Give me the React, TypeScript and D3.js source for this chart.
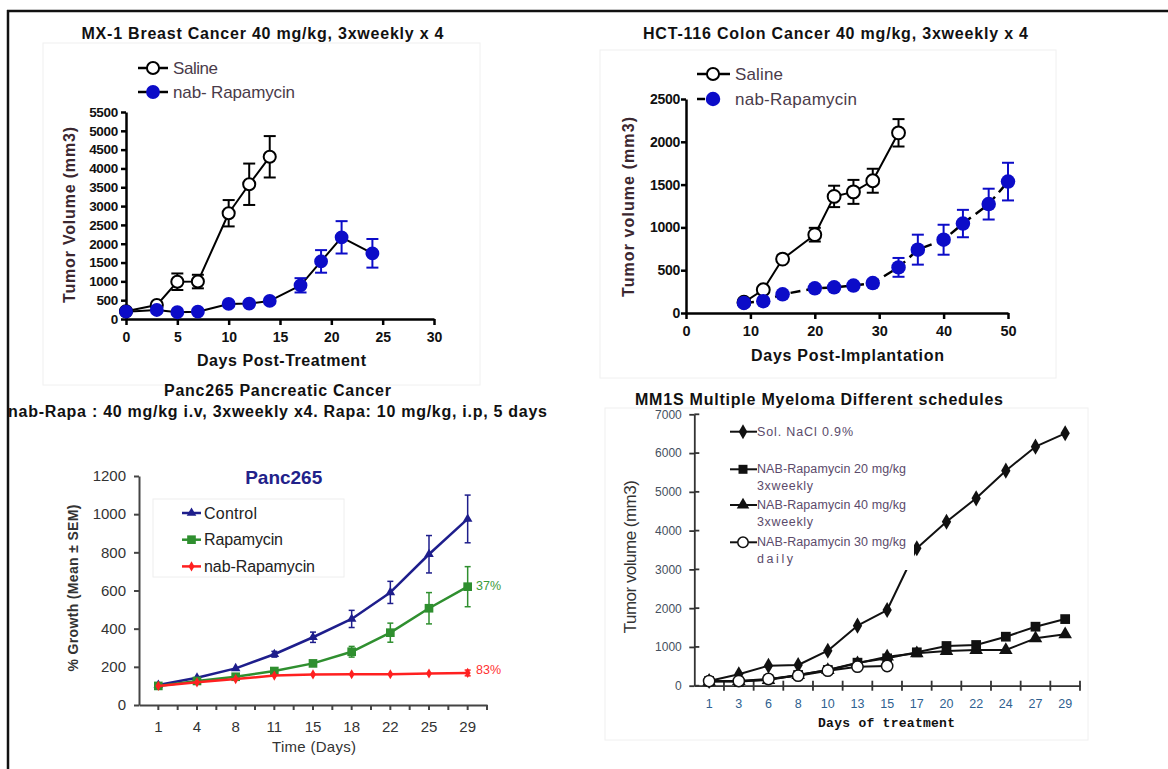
import React, { useRef, useEffect } from "react";
import * as d3 from "d3";

const W = 1168;
const H = 769;
const SANS = "'Liberation Sans', Arial, Helvetica, sans-serif";
const MONO = "'Liberation Mono', 'DejaVu Sans Mono', monospace";

// MX-1 breast cancer (days post-treatment, mm3)
const mxSalineDays = [0, 3, 5, 7, 10, 12, 14];
const mxSalineVol = [205, 370, 990, 995, 2810, 3580, 4310];
const mxSalineErr = [0, 0, 220, 180, 350, 550, 550];
const mxNabDays = [0, 3, 5, 7, 10, 12, 14, 17, 19, 21, 24];
const mxNabVol = [195, 240, 180, 195, 400, 410, 480, 895, 1530, 2170, 1745];
const mxNabErr = [0, 0, 0, 0, 0, 0, 0, 190, 300, 430, 380];

// HCT-116 colon cancer (days post-implantation, mm3)
const hctSalineDays = [9, 12, 15, 20, 23, 26, 29, 33];
const hctSalineVol = [125, 272, 630, 915, 1362, 1415, 1545, 2105];
const hctSalineErr = [0, 0, 0, 80, 125, 140, 140, 160];
const hctNabDays = [9, 12, 15, 20, 23, 26, 29, 33, 36, 40, 43, 47, 50];
const hctNabVol = [118, 138, 218, 288, 300, 320, 350, 533, 740, 856, 1045, 1272, 1535];
const hctNabErr = [0, 0, 0, 0, 0, 0, 0, 110, 175, 175, 160, 180, 220];

// Panc265 (% growth)
const pancDays = ["1", "4", "8", "11", "15", "18", "22", "25", "29"];
const pancControl = [105, 143, 192, 266, 355, 451, 590, 790, 975];
const pancControlErr = [0, 0, 0, 15, 27, 45, 58, 98, 125];
const pancRapa = [100, 126, 148, 178, 218, 279, 379, 507, 620];
const pancRapaErr = [0, 0, 0, 0, 12, 28, 50, 82, 105];
const pancNab = [100, 119, 136, 154, 160, 161, 161, 165, 168];
const pancNabErr = [0, 0, 0, 0, 0, 0, 0, 0, 15];

// MM1S multiple myeloma (days of treatment, mm3)
const mmDays = ["1", "3", "6", "8", "10", "13", "15", "17", "20", "22", "24", "27", "29"];
const mmSaline = [120, 294, 516, 534, 903, 1548, 1952, 3544, 4230, 4833, 5546, 6165, 6510];
const mm20 = [120, 103, 165, 276, 405, 594, 706, 861, 1024, 1050, 1264, 1522, 1718];
const mm40 = [103, 121, 147, 276, 405, 577, 748, 835, 895, 920, 920, 1222, 1325];
const mm30 = [120, 120, 173, 258, 387, 490, 508];

type Sel = d3.Selection<any, any, any, any>;
const fmt = d3.format("d");

function txt(g: Sel, s: string, x: number, y: number, o: any) {
  const t = g
    .append("text")
    .attr("transform", `translate(${x},${y})${o.rot ? " rotate(-90)" : ""}`)
    .attr("text-anchor", o.anchor || "middle")
    .attr("dominant-baseline", "central")
    .attr("font-family", o.family || SANS)
    .attr("font-size", o.size)
    .attr("font-weight", o.weight || "normal")
    .attr("fill", o.fill || "#111")
    .text(s);
  if (o.len) t.attr("textLength", o.len).attr("lengthAdjust", "spacing");
  return t;
}

function styleAxis(a: Sel, o: any) {
  a.select(".domain").attr("stroke", o.stroke).attr("stroke-width", o.width);
  a.selectAll(".tick line").attr("stroke", o.stroke).attr("stroke-width", o.width);
  a.selectAll(".tick text")
    .attr("font-family", o.family || SANS)
    .attr("font-size", o.size)
    .attr("font-weight", o.weight || "normal")
    .attr("letter-spacing", o.spacing || 0)
    .attr("fill", o.fill || "#111");
}

function line(g: Sel, pts: [number, number][], stroke: string, width: number, dash?: string) {
  g.append("path")
    .attr("d", d3.line()(pts))
    .attr("fill", "none")
    .attr("stroke", stroke)
    .attr("stroke-width", width)
    .attr("stroke-linejoin", "round")
    .attr("stroke-dasharray", dash || null);
}

function errBars(g: Sel, xs: number[], top: number[], bot: number[], color: string, cap: number, width: number) {
  xs.forEach((x, i) => {
    if (top[i] === bot[i]) return;
    g.append("line").attr("x1", x).attr("x2", x).attr("y1", top[i]).attr("y2", bot[i])
      .attr("stroke", color).attr("stroke-width", width);
    [top[i], bot[i]].forEach((yy) => {
      g.append("line").attr("x1", x - cap / 2).attr("x2", x + cap / 2).attr("y1", yy).attr("y2", yy)
        .attr("stroke", color).attr("stroke-width", width);
    });
  });
}

function marks(g: Sel, pts: [number, number][], type: any, size: number, fill: string, stroke: string, sw: number) {
  const sym = d3.symbol().type(type).size(size)();
  g.selectAll(null)
    .data(pts)
    .enter()
    .append("path")
    .attr("d", sym)
    .attr("transform", (d) => `translate(${d[0]},${d[1]})`)
    .attr("fill", fill)
    .attr("stroke", stroke)
    .attr("stroke-width", sw);
}

const App = () => {
  const ref = useRef<SVGSVGElement>(null);

  useEffect(() => {
    const svg = d3.select(ref.current);
    svg.selectAll("*").remove();

    // faint panel boxes
    [[43, 43, 437, 342], [600, 50, 456, 328], [605, 408, 483, 332]].forEach(([x, y, w, h]) => {
      svg.append("rect").attr("x", x).attr("y", y).attr("width", w).attr("height", h)
        .attr("fill", "none").attr("stroke", "#f0f0f0");
    });

    const blue = "#0c0cc8";

    // ---------- Panel 1: MX-1 ----------
    const p1 = svg.append("g");
    const x1 = d3.scaleLinear().domain([0, 30]).range([126, 434]);
    const y1 = d3.scaleLinear().domain([0, 5500]).range([319, 112]);
    const ax1 = p1.append("g").attr("transform", `translate(0,${y1(0)})`)
      .call(d3.axisBottom(x1).tickValues(d3.range(0, 31, 5)).tickFormat(fmt).tickSize(6).tickPadding(7).tickSizeOuter(0));
    styleAxis(ax1, { stroke: "#000", width: 2.5, size: 14, weight: "bold" });
    const ay1 = p1.append("g").attr("transform", `translate(${x1(0)},0)`)
      .call(d3.axisLeft(y1).tickValues(d3.range(0, 5501, 500)).tickFormat(fmt).tickSize(5).tickPadding(3).tickSizeOuter(0));
    styleAxis(ay1, { stroke: "#000", width: 2.5, size: 13.5, weight: "bold", spacing: -0.3 });

    const nab1 = mxNabDays.map((d, i) => [x1(d), y1(mxNabVol[i])] as [number, number]);
    const sal1 = mxSalineDays.map((d, i) => [x1(d), y1(mxSalineVol[i])] as [number, number]);
    line(p1, sal1, "#000", 2);
    errBars(p1, mxSalineDays.map(x1), mxSalineVol.map((v, i) => y1(v + mxSalineErr[i])), mxSalineVol.map((v, i) => y1(v - mxSalineErr[i])), "#000", 12, 2);
    marks(p1, sal1, d3.symbolCircle, 115, "#fff", "#000", 2);
    line(p1, nab1, "#000", 2);
    errBars(p1, mxNabDays.map(x1), mxNabVol.map((v, i) => y1(v + mxNabErr[i])), mxNabVol.map((v, i) => y1(v - mxNabErr[i])), blue, 12, 2);
    marks(p1, nab1, d3.symbolCircle, 150, blue, "none", 0);

    txt(p1, "MX-1 Breast Cancer 40 mg/kg, 3xweekly x 4", 262.5, 33, { size: 16, weight: "bold", len: 362 });
    txt(p1, "Days Post-Treatment", 281.5, 360, { size: 16, weight: "bold", len: 169 });
    txt(p1, "Tumor Volume (mm3)", 69, 215, { size: 16, weight: "bold", len: 176, rot: true, fill: "#3b2730" });
    line(p1, [[138, 68], [168, 68]], "#000", 2.5);
    marks(p1, [[153, 68]], d3.symbolCircle, 115, "#fff", "#000", 2);
    line(p1, [[138, 92], [168, 92]], "#000", 2.5);
    marks(p1, [[153, 92]], d3.symbolCircle, 150, blue, "none", 0);
    txt(p1, "Saline", 173, 68, { size: 17, anchor: "start", fill: "#4a3b4a", len: 45 });
    txt(p1, "nab- Rapamycin", 173, 92, { size: 17, anchor: "start", fill: "#4a3b4a", len: 122 });

    // ---------- Panel 2: HCT-116 ----------
    const p2 = svg.append("g");
    const x2 = d3.scaleLinear().domain([0, 50]).range([686, 1008]);
    const y2 = d3.scaleLinear().domain([0, 2500]).range([313, 99]);
    const ax2 = p2.append("g").attr("transform", `translate(0,${y2(0)})`)
      .call(d3.axisBottom(x2).tickValues(d3.range(0, 51, 10)).tickFormat(fmt).tickSize(6).tickPadding(7).tickSizeOuter(0));
    styleAxis(ax2, { stroke: "#000", width: 2.5, size: 14.5, weight: "bold" });
    const ay2 = p2.append("g").attr("transform", `translate(${x2(0)},0)`)
      .call(d3.axisLeft(y2).tickValues(d3.range(0, 2501, 500)).tickFormat(fmt).tickSize(5).tickPadding(1).tickSizeOuter(0));
    styleAxis(ay2, { stroke: "#000", width: 2.5, size: 14, weight: "bold", spacing: -0.3 });

    const nab2 = hctNabDays.map((d, i) => [x2(d), y2(hctNabVol[i])] as [number, number]);
    const sal2 = hctSalineDays.map((d, i) => [x2(d), y2(hctSalineVol[i])] as [number, number]);
    line(p2, sal2, "#000", 2);
    errBars(p2, hctSalineDays.map(x2), hctSalineVol.map((v, i) => y2(v + hctSalineErr[i])), hctSalineVol.map((v, i) => y2(v - hctSalineErr[i])), "#000", 12, 2);
    marks(p2, sal2, d3.symbolCircle, 130, "#fff", "#000", 2);
    line(p2, nab2, "#000", 2.5, "10,6");
    errBars(p2, hctNabDays.map(x2), hctNabVol.map((v, i) => y2(v + hctNabErr[i])), hctNabVol.map((v, i) => y2(v - hctNabErr[i])), blue, 12, 2);
    marks(p2, nab2, d3.symbolCircle, 165, blue, "none", 0);

    txt(p2, "HCT-116 Colon Cancer 40 mg/kg, 3xweekly x 4", 835.5, 33, { size: 16, weight: "bold", len: 385 });
    txt(p2, "Days Post-Implantation", 847.5, 355, { size: 16, weight: "bold", len: 193 });
    txt(p2, "Tumor volume (mm3)", 628, 207, { size: 16, weight: "bold", len: 180, rot: true, fill: "#3b2730" });
    line(p2, [[697, 74], [730, 74]], "#000", 2.5);
    marks(p2, [[713, 74]], d3.symbolCircle, 115, "#fff", "#000", 2);
    line(p2, [[697, 99], [705, 99]], "#000", 2.5);
    marks(p2, [[713, 99]], d3.symbolCircle, 165, blue, "none", 0);
    txt(p2, "Saline", 735, 74, { size: 17, anchor: "start", fill: "#4a3b4a", len: 48 });
    txt(p2, "nab-Rapamycin", 735, 99, { size: 17, anchor: "start", fill: "#4a3b4a", len: 122 });

    // ---------- Panel 3: Panc265 ----------
    const p3 = svg.append("g");
    const x3 = d3.scaleBand().domain(pancDays).range([139, 487]);
    const c3 = (d: string) => (x3(d) as number) + x3.bandwidth() / 2;
    const y3 = d3.scaleLinear().domain([0, 1200]).range([705, 476]);
    const ax3 = p3.append("g").attr("transform", `translate(0,${y3(0)})`)
      .call(d3.axisBottom(x3).tickSize(5).tickPadding(11).tickSizeOuter(0));
    styleAxis(ax3, { stroke: "#444", width: 2, size: 15, fill: "#333" });
    d3.range(1, pancDays.length + 1).forEach((i) => {
      const bx = 139 + i * x3.step();
      ax3.append("line").attr("x1", bx).attr("x2", bx).attr("y1", 0).attr("y2", 5)
        .attr("stroke", "#444").attr("stroke-width", 2);
    });
    const ay3 = p3.append("g").attr("transform", `translate(139,0)`)
      .call(d3.axisLeft(y3).tickValues(d3.range(0, 1201, 200)).tickFormat(fmt).tickSize(5).tickPadding(8).tickSizeOuter(0));
    styleAxis(ay3, { stroke: "#444", width: 2, size: 15, fill: "#333" });

    const pancSeries = [
      { v: pancControl, e: pancControlErr, color: "#1e1e8c", sym: d3.symbolTriangle, size: 40 },
      { v: pancRapa, e: pancRapaErr, color: "#2f8f2f", sym: d3.symbolSquare, size: 75 },
      { v: pancNab, e: pancNabErr, color: "#ff2020", sym: d3.symbolDiamond, size: 30 },
    ];
    pancSeries.forEach((s) => {
      const pts = pancDays.map((d, i) => [c3(d), y3(s.v[i])] as [number, number]);
      line(p3, pts, s.color, 2.5);
      errBars(p3, pancDays.map(c3), s.v.map((v, i) => y3(v + s.e[i])), s.v.map((v, i) => y3(v - s.e[i])), s.color, 6, 1.5);
      marks(p3, pts, s.sym, s.size, s.color, "none", 0);
    });

    txt(p3, "Panc265 Pancreatic Cancer", 277.5, 390, { size: 16, weight: "bold", len: 227 });
    txt(p3, "nab-Rapa : 40 mg/kg i.v, 3xweekly x4. Rapa: 10 mg/kg, i.p, 5 days", 277.5, 411, { size: 16, weight: "bold", len: 539 });
    txt(p3, "Panc265", 283.7, 477, { size: 19, weight: "bold", fill: "#22228a" });
    txt(p3, "Time (Days)", 314, 746, { size: 15, fill: "#333", len: 84 });
    txt(p3, "%  Growth (Mean \u00b1 SEM)", 73, 588, { size: 14, weight: "bold", fill: "#333", rot: true, len: 167 });
    txt(p3, "37%", 476, 586, { size: 12.5, anchor: "start", fill: "#3a9a3a", len: 25 });
    txt(p3, "83%", 476, 670, { size: 12.5, anchor: "start", fill: "#ff3030", len: 25 });

    p3.append("rect").attr("x", 153).attr("y", 499).attr("width", 191).attr("height", 78)
      .attr("fill", "none").attr("stroke", "#eeeeee");
    const pancNames = ["Control", "Rapamycin", "nab-Rapamycin"];
    const pancLens = [53, 79, 111];
    pancSeries.forEach((s, i) => {
      const ly = 513 + i * 26.7;
      line(p3, [[182, ly], [201, ly]], s.color, 2.5);
      marks(p3, [[191.5, ly]], s.sym, s.size, s.color, "none", 0);
      txt(p3, pancNames[i], 204, ly, { size: 16, anchor: "start", fill: "#222", len: pancLens[i] });
    });

    // ---------- Panel 4: MM1S ----------
    const p4 = svg.append("g");
    const x4 = d3.scaleBand().domain(mmDays).range([694.3, 1080]);
    const c4 = (d: string) => (x4(d) as number) + x4.bandwidth() / 2;
    const y4 = d3.scaleLinear().domain([0, 7000]).range([685.7, 414.3]);
    const ax4 = p4.append("g").attr("transform", `translate(0,${y4(0)})`)
      .call(d3.axisBottom(x4).tickSize(0).tickPadding(13).tickSizeOuter(0));
    styleAxis(ax4, { stroke: "#333", width: 1.8, size: 12.5, fill: "#2f5f8f" });
    d3.range(1, mmDays.length + 1).forEach((i) => {
      const bx = 694.3 + i * x4.step();
      ax4.append("line").attr("x1", bx).attr("x2", bx).attr("y1", -5).attr("y2", 5)
        .attr("stroke", "#333").attr("stroke-width", 1.8);
    });
    const ay4 = p4.append("g").attr("transform", `translate(694.3,0)`)
      .call(d3.axisLeft(y4).tickValues(d3.range(0, 7001, 1000)).tickFormat(fmt).tickSize(5).tickPadding(7.5).tickSizeOuter(0));
    styleAxis(ay4, { stroke: "#333", width: 1.8, size: 12, fill: "#45505e" });
    y4.ticks(7).forEach((t) => {
      ay4.append("line").attr("x1", 0).attr("x2", 5).attr("y1", y4(t)).attr("y2", y4(t))
        .attr("stroke", "#333").attr("stroke-width", 1.8);
    });

    const mmSeries = [
      { v: mmSaline, sym: d3.symbolDiamond, size: 75, fill: "#111", stroke: "none" },
      { v: mm40, sym: d3.symbolTriangle, size: 80, fill: "#111", stroke: "none" },
      { v: mm20, sym: d3.symbolSquare, size: 95, fill: "#111", stroke: "none" },
      { v: mm30, sym: d3.symbolCircle, size: 100, fill: "#fff", stroke: "#111" },
    ];
    mmSeries.forEach((s) => {
      const pts = s.v.map((v, i) => [c4(mmDays[i]), y4(v)] as [number, number]);
      line(p4, pts, "#111", 2);
      marks(p4, pts, s.sym, s.size, s.fill, s.stroke, 1.5);
    });

    // legend sits on a white box over the data
    p4.append("rect").attr("x", 725).attr("y", 420).attr("width", 189).attr("height", 150).attr("fill", "#fff");
    const mmLegend = [
      { i: 0, y: 431.7, lines: ["Sol. NaCl 0.9%"], lens: [96] },
      { i: 2, y: 469.3, lines: ["NAB-Rapamycin 20 mg/kg", "3xweekly"], lens: [149, 56] },
      { i: 1, y: 505, lines: ["NAB-Rapamycin 40 mg/kg", "3xweekly"], lens: [149, 56] },
      { i: 3, y: 542.3, lines: ["NAB-Rapamycin 30 mg/kg", "daily"], lens: [149, 36] },
    ];
    mmLegend.forEach((l) => {
      const s = mmSeries[l.i];
      line(p4, [[730, l.y], [757, l.y]], "#111", 2);
      marks(p4, [[743, l.y]], s.sym, s.size * 0.85, s.fill, s.stroke, 1.5);
      l.lines.forEach((t, k) => {
        txt(p4, t, 757, l.y + k * 16.5, { size: 12.5, anchor: "start", fill: "#5b4b6b", len: l.lens[k] });
      });
    });

    txt(p4, "MM1S Multiple Myeloma Different schedules", 819, 399, { size: 16, weight: "bold", len: 368 });
    txt(p4, "Days of treatment", 886.5, 723, { size: 13, weight: "bold", family: MONO, len: 137 });
    txt(p4, "Tumor volume (mm3)", 630, 556.7, { size: 17, fill: "#333", rot: true, len: 153 });

    // outer frame (top and left edges)
    svg.append("line").attr("x1", 7).attr("x2", W).attr("y1", 11).attr("y2", 11).attr("stroke", "#111").attr("stroke-width", 2.5);
    svg.append("line").attr("x1", 8).attr("x2", 8).attr("y1", 10).attr("y2", H).attr("stroke", "#111").attr("stroke-width", 2.5);
  }, []);

  return (
    <svg
      ref={ref}
      width={W}
      height={H}
      style={{ position: "absolute", left: 0, top: 0, background: "#fff" }}
    />
  );
};

export default App;
